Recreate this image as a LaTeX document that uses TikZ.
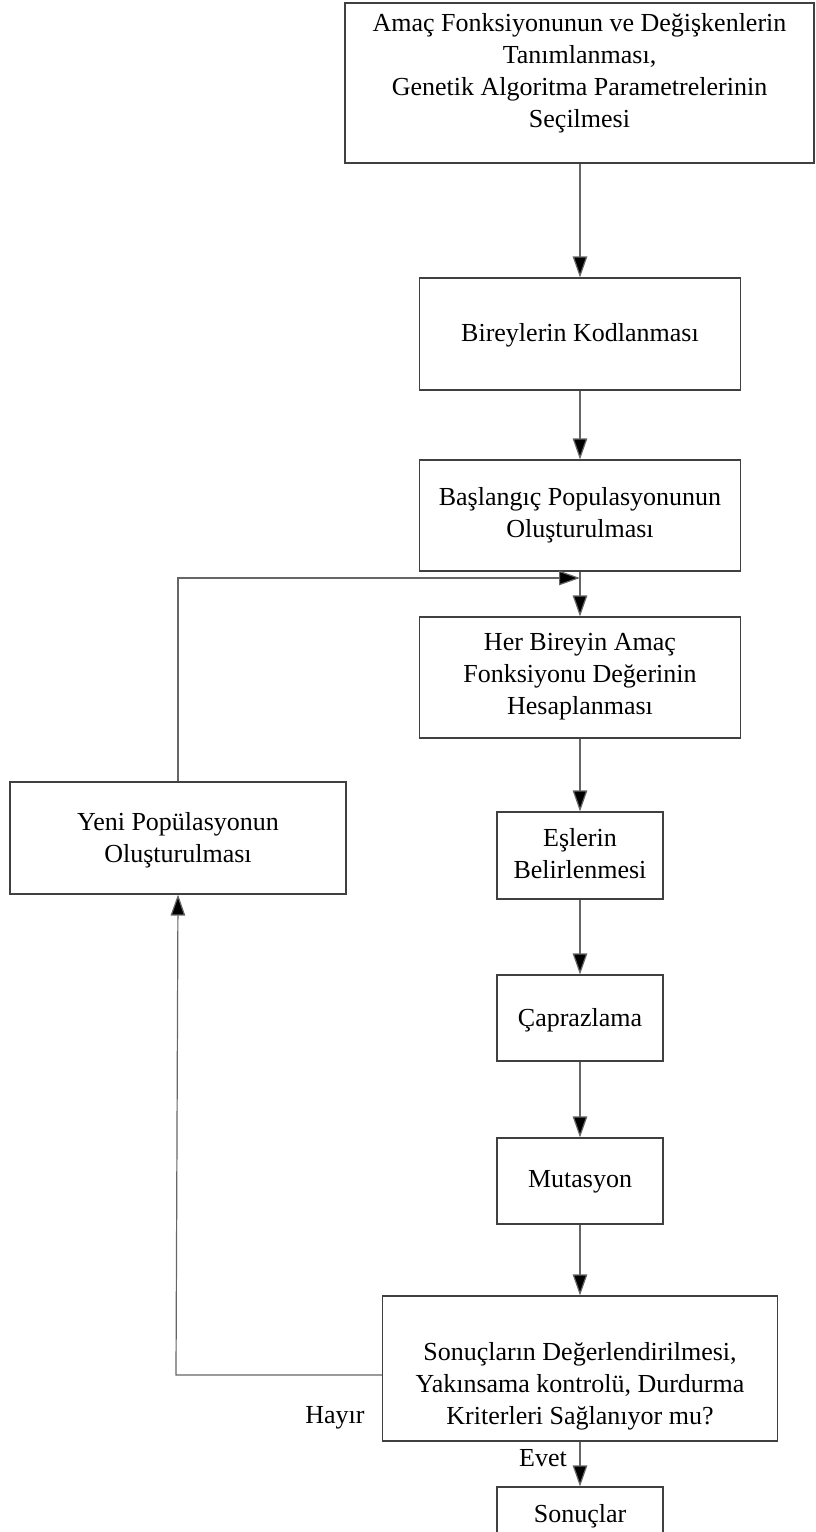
\documentclass[tikz,border=0pt]{standalone}
\usepackage{fontspec}
\setmainfont{Liberation Serif}
\usetikzlibrary{arrows.meta}
\begin{document}
\begin{tikzpicture}[x=1pt,y=-1pt,
  box/.style={draw=black!75, line width=1.1pt, rectangle, inner sep=0pt},
  txt/.style={align=center, font=\fontsize{26}{32}\selectfont, inner sep=0pt},
  lbl/.style={font=\fontsize{26}{32}\selectfont, inner sep=0pt},
  conn/.style={draw=black!60, line width=1.2pt},
  arr/.style={conn, -{Triangle[length=21pt,width=14.5pt,fill=black]}}]
\useasboundingbox (0,0) rectangle (815,1532);
\clip (0,0) rectangle (815,1532);

% process boxes
\node[box, minimum width=469pt, minimum height=160pt] (init) at (579.5,83) {};
\node[box, minimum width=321pt, minimum height=112pt] (kod) at (580,334) {};
\node[box, minimum width=321pt, minimum height=111pt] (bas) at (580,515.5) {};
\node[box, minimum width=321pt, minimum height=121pt] (her) at (580,677.5) {};
\node[box, minimum width=166pt, minimum height=87pt] (es) at (580,855.5) {};
\node[box, minimum width=166pt, minimum height=86pt] (cap) at (580,1018) {};
\node[box, minimum width=166pt, minimum height=86pt] (mut) at (580,1181) {};
\node[box, minimum width=395pt, minimum height=145pt] (deg) at (580,1368.5) {};
\node[box, minimum width=166pt, minimum height=90pt] (son) at (580,1532) {};
\node[box, minimum width=336pt, minimum height=112pt] (yeni) at (178,838) {};

% box texts
\node[txt] (t-init) at (579.5,73) {Amaç Fonksiyonunun ve Değişkenlerin\\Tanımlanması,\\Genetik Algoritma Parametrelerinin\\Seçilmesi};
\node[txt] (t-kod) at (580,335) {Bireylerin Kodlanması};
\node[txt] (t-bas) at (580,515) {Başlangıç Populasyonunun\\Oluşturulması};
\node[txt] (t-her) at (580,677) {Her Bireyin Amaç\\Fonksiyonu Değerinin\\Hesaplanması};
\node[txt] (t-es) at (580,854) {Eşlerin\\Belirlenmesi};
\node[txt] (t-cap) at (580,1020) {Çaprazlama};
\node[txt] (t-mut) at (580,1182) {Mutasyon};
\node[txt] (t-deg) at (580,1386) {Sonuçların Değerlendirilmesi,\\Yakınsama kontrolü, Durdurma\\Kriterleri Sağlanıyor mu?};
\node[txt] (t-son) at (580,1516) {Sonuçlar};
\node[txt] (t-yeni) at (178,840) {Yeni Popülasyonun\\Oluşturulması};

% branch labels
\node[lbl] (hayir) at (335,1418) {Hayır};
\node[lbl] (evet) at (543,1458) {Evet};

% main flow
\draw[arr] (init.south -| kod.north) -- (kod.north);
\draw[arr] (kod.south) -- (bas.north);
\draw[arr] (bas.south) -- (her.north);
\draw[arr] (her.south) -- (es.north);
\draw[arr] (es.south) -- (cap.north);
\draw[arr] (cap.south) -- (mut.north);
\draw[arr] (mut.south) -- (deg.north);
\draw[arr] (deg.south) -- (son.north);

% loop back
\coordinate (join) at (580,578);
\coordinate (fb) at (176,1375);
\draw[arr] (yeni.north) |- (join);
\draw[arr] (deg.west |- fb) -- (fb) -- (yeni.south);
\end{tikzpicture}
\end{document}
